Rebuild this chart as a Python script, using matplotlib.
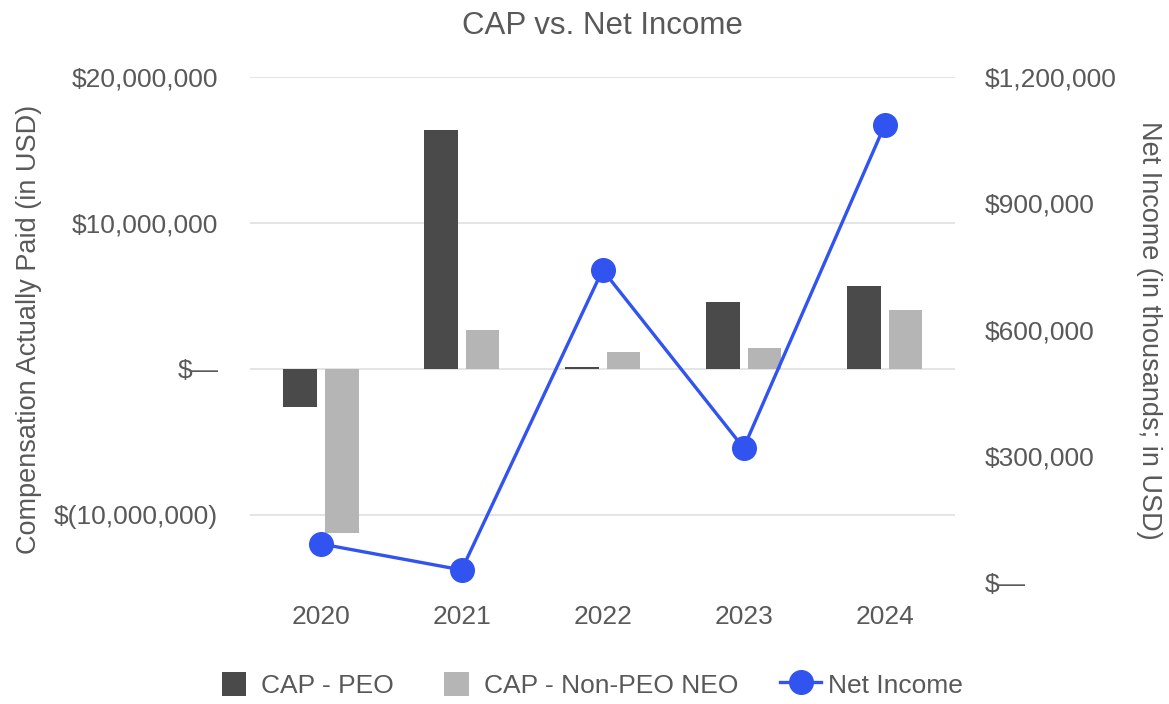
import matplotlib.pyplot as plt
import numpy as np
from matplotlib.ticker import FuncFormatter
from matplotlib.patches import Rectangle
from matplotlib.container import BarContainer
from matplotlib.legend_handler import HandlerPatch, update_from_first_child

plt.rcParams['font.family'] = ['Liberation Sans', 'DejaVu Sans']

years = ["2020", "2021", "2022", "2023", "2024"]
cap_peo = [-2600000, 16370000, 100000, 4570000, 5680000]
cap_non_peo = [-11230000, 2670000, 1140000, 1440000, 4040000]
net_income = [92500, 30800, 742000, 320000, 1084500]

text_col = "#595959"


def left_fmt(v, pos):
    if v == 0:
        return "$\u2014"
    if v < 0:
        return "$({:,.0f})".format(-v)
    return "${:,.0f}".format(v)


def right_fmt(v, pos):
    if v == 0:
        return "$\u2014"
    return "${:,.0f}".format(v)


def square_patch(legend, orig_handle, xdescent, ydescent, width, height, fontsize):
    # square legend boxes, centred in the handle slot
    return Rectangle((-xdescent + (width - height) / 2, -ydescent), height, height)


fig = plt.figure(figsize=(11.69, 7.04), dpi=100)
ax = fig.add_axes([0.214, 0.172, 0.603, 0.719])
ax2 = ax.twinx()

x = np.arange(len(years))
w = 0.24
gap = 0.057
ax.bar(x - (w + gap) / 2, cap_peo, w, color="#4a4a4a", label="CAP - PEO", zorder=2)
ax.bar(x + (w + gap) / 2, cap_non_peo, w, color="#b5b5b5", label="CAP - Non-PEO NEO", zorder=2)
ax2.plot(x, net_income, color="#3153ef", lw=2.4, marker="o", ms=17, label="Net Income")

ax.set_xlim(-0.5, 4.5)
ax.set_ylim(-14660000, 20000000)
ax.set_yticks([-10000000, 0, 10000000, 20000000])
ax.yaxis.set_major_formatter(FuncFormatter(left_fmt))
ax.grid(axis="y", color="#e3e3e3", lw=1.3, zorder=0)
ax.set_axisbelow(True)
ax2.set_ylim(0, 1200000)
ax2.set_yticks([0, 300000, 600000, 900000, 1200000])
ax2.yaxis.set_major_formatter(FuncFormatter(right_fmt))

ax.set_xticks(x)
ax.set_xticklabels(years)
for a in (ax, ax2):
    for s in a.spines.values():
        s.set_visible(False)
    a.tick_params(length=0, labelsize=19, colors=text_col)
ax.tick_params(axis="x", pad=16)
ax.tick_params(axis="y", pad=23)
ax2.tick_params(axis="y", pad=21)

ax.set_ylabel("Compensation Actually Paid (in USD)", fontsize=19.5, color=text_col, labelpad=9)
ax2.set_ylabel("Net Income (in thousands; in USD)", fontsize=19.5, color=text_col, rotation=270,
               labelpad=33)
ax.set_title("CAP vs. Net Income", fontsize=22.5, color=text_col, pad=31)

h1, l1 = ax.get_legend_handles_labels()
h2, l2 = ax2.get_legend_handles_labels()
fig.legend(h1 + h2, l1 + l2, loc="center", bbox_to_anchor=(0.503, 0.027), ncol=3, frameon=False,
           fontsize=19, labelcolor=text_col, handlelength=1.55, handleheight=1.05, handletextpad=0.25,
           columnspacing=1.6, markerscale=1.0,
           handler_map={BarContainer: HandlerPatch(patch_func=square_patch,
                                                   update_func=update_from_first_child)})

fig.savefig("out.png", dpi=100)
